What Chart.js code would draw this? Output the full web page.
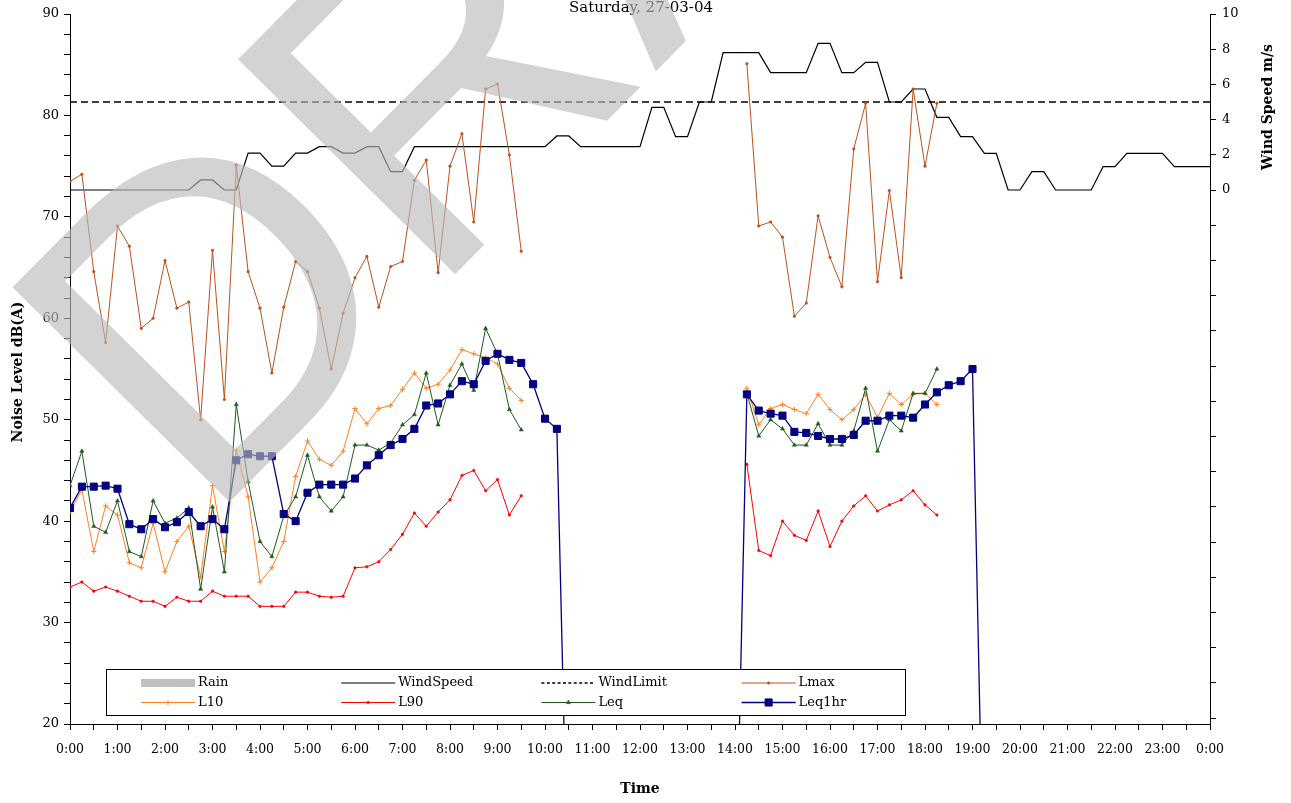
<!DOCTYPE html>
<html>
<head>
<meta charset="utf-8">
<script src="https://cdn.jsdelivr.net/npm/chart.js@4.4.1/dist/chart.umd.min.js"></script>
<style>
  html, body { margin: 0; padding: 0; background: #fff; }
  #wrap { position: relative; width: 1291px; height: 803px; }
</style>
</head>
<body>
<div id="wrap"><canvas id="c" width="1291" height="803"></canvas></div>
<script>
// ---- text ----
const title = 'Saturday, 27-03-04';
const xTitle = 'Time';
const yTitle = 'Noise Level dB(A)';
const y2Title = 'Wind Speed m/s';
const watermark = 'DRAFT';

// ---- 15-minute time slots ----
const times = [
  '0:00','0:15','0:30','0:45','1:00','1:15','1:30','1:45',
  '2:00','2:15','2:30','2:45','3:00','3:15','3:30','3:45',
  '4:00','4:15','4:30','4:45','5:00','5:15','5:30','5:45',
  '6:00','6:15','6:30','6:45','7:00','7:15','7:30','7:45',
  '8:00','8:15','8:30','8:45','9:00','9:15','9:30','9:45',
  '10:00','10:15','10:30','10:45','11:00','11:15','11:30','11:45',
  '12:00','12:15','12:30','12:45','13:00','13:15','13:30','13:45',
  '14:00','14:15','14:30','14:45','15:00','15:15','15:30','15:45',
  '16:00','16:15','16:30','16:45','17:00','17:15','17:30','17:45',
  '18:00','18:15','18:30','18:45','19:00','19:15','19:30','19:45',
  '20:00','20:15','20:30','20:45','21:00','21:15','21:30','21:45',
  '22:00','22:15','22:30','22:45','23:00','23:15','23:30','23:45',
  '24:00'
];

// ---- series (one value per time slot, null = no reading) ----
const rain = [];

const windSpeed = [
  0, 0, 0, 0, 0, 0, 0, 0,
  0, 0, 0, 0.57, 0.57, 0, 0, 2.1,
  2.1, 1.36, 1.36, 2.1, 2.1, 2.46, 2.46, 2.1,
  2.1, 2.46, 2.46, 1.04, 1.04, 2.46, 2.46, 2.46,
  2.46, 2.46, 2.46, 2.46, 2.46, 2.46, 2.46, 2.46,
  2.46, 3.07, 3.07, 2.46, 2.46, 2.46, 2.46, 2.46,
  2.46, 4.7, 4.7, 3.03, 3.03, 5.0, 5.0, 7.8,
  7.8, 7.8, 7.8, 6.67, 6.67, 6.67, 6.67, 8.33,
  8.33, 6.67, 6.67, 7.25, 7.25, 5.0, 5.0, 5.74,
  5.74, 4.13, 4.13, 3.03, 3.03, 2.08, 2.08, 0,
  0, 1.04, 1.04, 0, 0, 0, 0, 1.33,
  1.33, 2.08, 2.08, 2.08, 2.08, 1.33, 1.33, 1.33,
  1.33
];

const windLimit = 5;

const lmax = [
  73.5, 74.2, 64.6, 57.6, 69.1, 67.1, 59.0, 60.0,
  65.7, 61.0, 61.6, 50.0, 66.7, 52.0, 75.1, 64.6,
  61.0, 54.6, 61.1, 65.6, 64.6, 61.0, 55.0, 60.5,
  64.0, 66.1, 61.1, 65.1, 65.6, 73.6, 75.6, 64.5,
  75.0, 78.2, 69.5, 82.6, 83.1, 76.1, 66.6, null,
  null, null, null, null, null, null, null, null,
  null, null, null, null, null, null, null, null,
  null, 85.1, 69.1, 69.5, 68.0, 60.2, 61.5, 70.1,
  66.0, 63.1, 76.7, 81.2, 63.6, 72.6, 64.0, 82.6,
  75.0, 81.2, null, null, null, null, null, null,
  null, null, null, null, null, null, null, null,
  null, null, null, null, null, null, null, null,
  null
];

const l10 = [
  40.9, 43.1, 37.0, 41.5, 40.6, 35.9, 35.4, 39.8,
  35.0, 38.0, 39.5, 34.5, 43.5, 37.0, 47.0, 42.4,
  34.0, 35.4, 38.0, 44.4, 47.9, 46.1, 45.5, 46.9,
  51.1, 49.6, 51.1, 51.4, 53.0, 54.6, 53.1, 53.5,
  54.9, 56.9, 56.5, 56.1, 55.5, 53.1, 51.9, null,
  null, null, null, null, null, null, null, null,
  null, null, null, null, null, null, null, null,
  null, 53.1, 49.5, 51.1, 51.5, 51.0, 50.6, 52.5,
  51.0, 50.0, 51.0, 52.5, 50.2, 52.6, 51.5, 52.5,
  52.6, 51.5, null, null, null, null, null, null,
  null, null, null, null, null, null, null, null,
  null, null, null, null, null, null, null, null,
  null
];

const l90 = [
  33.5, 34.0, 33.1, 33.5, 33.1, 32.6, 32.1, 32.1,
  31.6, 32.5, 32.1, 32.1, 33.1, 32.6, 32.6, 32.6,
  31.6, 31.6, 31.6, 33.0, 33.0, 32.6, 32.5, 32.6,
  35.4, 35.5, 36.0, 37.2, 38.7, 40.8, 39.5, 40.9,
  42.1, 44.5, 45.0, 43.0, 44.1, 40.6, 42.5, null,
  null, null, null, null, null, null, null, null,
  null, null, null, null, null, null, null, null,
  null, 45.6, 37.1, 36.6, 40.0, 38.6, 38.1, 41.0,
  37.5, 40.0, 41.5, 42.5, 41.0, 41.6, 42.1, 43.0,
  41.6, 40.6, null, null, null, null, null, null,
  null, null, null, null, null, null, null, null,
  null, null, null, null, null, null, null, null,
  null
];

const leq = [
  43.5, 46.9, 39.5, 38.9, 42.0, 37.0, 36.5, 42.0,
  39.8, 40.3, 41.3, 33.3, 41.4, 35.0, 51.5, 43.9,
  38.0, 36.5, 40.5, 42.4, 46.5, 42.4, 41.0, 42.4,
  47.5, 47.5, 47.0, 47.7, 49.5, 50.5, 54.6, 49.5,
  53.4, 55.5, 52.9, 59.0, 56.5, 51.0, 49.0, null,
  null, null, null, null, null, null, null, null,
  null, null, null, null, null, null, null, null,
  null, 52.6, 48.4, 50.0, 49.1, 47.5, 47.5, 49.6,
  47.5, 47.5, 48.9, 53.1, 46.9, 50.0, 48.9, 52.6,
  52.6, 55.0, null, null, null, null, null, null,
  null, null, null, null, null, null, null, null,
  null, null, null, null, null, null, null, null,
  null
];

const leq1hr = [
  41.3, 43.4, 43.4, 43.5, 43.2, 39.7, 39.2, 40.2,
  39.4, 39.9, 40.9, 39.5, 40.2, 39.2, 46.0, 46.6,
  46.4, 46.4, 40.7, 40.0, 42.8, 43.6, 43.6, 43.6,
  44.2, 45.5, 46.5, 47.5, 48.1, 49.1, 51.4, 51.6,
  52.5, 53.8, 53.5, 55.8, 56.5, 55.9, 55.6, 53.5,
  50.1, 49.1, 0, 0, 0, 0, 0, 0,
  0, 0, 0, 0, 0, 0, 0, 0,
  0, 52.5, 50.9, 50.6, 50.4, 48.8, 48.7, 48.4,
  48.1, 48.1, 48.5, 49.9, 49.9, 50.4, 50.4, 50.2,
  51.5, 52.7, 53.4, 53.8, 55.0, 0, 0, 0,
  0, 0, 0, 0, 0, 0, 0, 0,
  0, 0, 0, 0, 0, 0, 0, 0,
  0
];

// ---- helpers ----
const hours = times.map(t => { const [h, m] = t.split(':'); return Number(h) + Number(m) / 60; });
const toPoints = arr => arr.map((v, i) => ({ x: hours[i], y: v }));
const FONT = 'DejaVu Serif';

Chart.defaults.font.family = FONT;
Chart.defaults.color = '#000';

const datasets = [
  { label: 'Rain', type: 'bar', data: rain, yAxisID: 'y2', backgroundColor: '#c0c0c0', order: 8 },
  { label: 'WindSpeed', data: toPoints(windSpeed), yAxisID: 'y2', borderColor: '#000', borderWidth: 1.2,
    pointRadius: 0, order: 7 },
  { label: 'WindLimit', data: [{ x: hours[0], y: windLimit }, { x: hours[hours.length - 1], y: windLimit }],
    yAxisID: 'y2', borderColor: '#000', borderWidth: 1.5, borderDash: [7, 4], pointRadius: 0, order: 6 },
  { label: 'Lmax', data: toPoints(lmax), yAxisID: 'y', borderColor: '#b9531f', backgroundColor: '#b9531f',
    borderWidth: 1, pointStyle: 'circle', pointRadius: 1.3, pointBorderWidth: 0.5, order: 5 },
  { label: 'L10', data: toPoints(l10), yAxisID: 'y', borderColor: '#ff8020', backgroundColor: '#ff8020',
    borderWidth: 1, pointStyle: 'cross', pointRadius: 2.6, pointBorderWidth: 1, order: 4 },
  { label: 'L90', data: toPoints(l90), yAxisID: 'y', borderColor: '#ff0000', backgroundColor: '#ff0000',
    borderWidth: 1, pointStyle: 'circle', pointRadius: 1.3, pointBorderWidth: 0.5, order: 3 },
  { label: 'Leq', data: toPoints(leq), yAxisID: 'y', borderColor: '#1f5a1f', backgroundColor: '#1f5a1f',
    borderWidth: 1, pointStyle: 'triangle', pointRadius: 2.4, pointBorderWidth: 0.5, order: 2 },
  { label: 'Leq1hr', data: toPoints(leq1hr), yAxisID: 'y', borderColor: '#000080', backgroundColor: '#000080',
    borderWidth: 1.3, pointStyle: 'rect', pointRadius: 5, pointBorderWidth: 1, order: 1 }
];

// legend box, titles and the watermark
const decor = {
  id: 'decor',
  afterDraw(chart) {
    const ctx = chart.ctx;
    ctx.save();

    // legend
    const bx = 106.5, by = 669.5, bw = 799, bh = 46;
    ctx.fillStyle = '#fff';
    ctx.fillRect(bx, by, bw, bh);
    ctx.strokeStyle = '#000';
    ctx.lineWidth = 1;
    ctx.setLineDash([]);
    ctx.strokeRect(bx, by, bw, bh);
    ctx.font = '13px "' + FONT + '"';
    ctx.textBaseline = 'middle';
    ctx.textAlign = 'left';
    chart.data.datasets.forEach((ds, i) => {
      const col = i % 4, row = Math.floor(i / 4);
      const sx = 141 + col * 200.2, sy = 683 + row * 19.5, sw = 54;
      if (ds.type === 'bar') {
        ctx.fillStyle = ds.backgroundColor;
        ctx.fillRect(sx, sy - 4, sw, 8);
      } else {
        ctx.strokeStyle = ds.borderColor;
        ctx.lineWidth = ds.borderWidth;
        ctx.setLineDash(ds.borderDash ? [3, 2.4] : []);
        ctx.beginPath();
        ctx.moveTo(sx, sy);
        ctx.lineTo(sx + sw, sy);
        ctx.stroke();
        ctx.setLineDash([]);
        if (ds.pointRadius > 0) {
          ctx.fillStyle = ds.backgroundColor;
          ctx.strokeStyle = ds.borderColor;
          ctx.lineWidth = ds.pointBorderWidth;
          Chart.helpers.drawPoint(ctx, { pointStyle: ds.pointStyle, radius: ds.pointRadius, rotation: 0, borderWidth: ds.pointBorderWidth }, sx + sw / 2, sy);
        }
      }
      ctx.fillStyle = '#000';
      ctx.fillText(ds.label, sx + sw + 3, sy);
    });

    // chart title and axis titles
    ctx.fillStyle = '#000';
    ctx.textAlign = 'center';
    ctx.textBaseline = 'middle';
    ctx.font = '15px "' + FONT + '"';
    ctx.fillText(title, 641, 8);
    ctx.font = 'bold 14px "' + FONT + '"';
    ctx.fillText(xTitle, 640, 789);
    ctx.save();
    ctx.translate(18, 372);
    ctx.rotate(-Math.PI / 2);
    ctx.fillText(yTitle, 0, 0);
    ctx.restore();
    ctx.save();
    ctx.translate(1268, 107);
    ctx.rotate(-Math.PI / 2);
    ctx.fillText(y2Title, 0, 0);
    ctx.restore();

    // watermark over the whole chart
    ctx.save();
    ctx.translate(204, 528);
    ctx.rotate(-45.3 * Math.PI / 180);
    ctx.font = '444px "Liberation Sans"';
    ctx.textAlign = 'left';
    ctx.textBaseline = 'alphabetic';
    ctx.fillStyle = 'rgba(186,186,186,0.64)';
    ctx.fillText(watermark, 0, 0);
    ctx.restore();

    ctx.restore();
  }
};

const axisGrid = { drawOnChartArea: false, drawTicks: true, tickLength: 6, color: '#000', lineWidth: 1 };
const axisBorder = { display: true, color: '#000', width: 1 };

new Chart(document.getElementById('c'), {
  type: 'line',
  data: { datasets },
  options: {
    responsive: false,
    animation: false,
    devicePixelRatio: 1,
    events: [],
    layout: { padding: { top: 14, left: 0, right: 0, bottom: 0 } },
    elements: { line: { tension: 0 } },
    plugins: { legend: { display: false }, title: { display: false }, tooltip: { enabled: false } },
    scales: {
      x: {
        type: 'linear', position: 'bottom', min: 0, max: 24, offset: false,
        grid: { ...axisGrid, offset: false }, border: axisBorder,
        ticks: {
          stepSize: 0.5, autoSkip: false, maxRotation: 0, padding: 12,
          font: { size: 12.5 },
          callback: v => Number.isInteger(v) ? (v % 24) + ':00' : ''
        },
        afterFit: s => { s.height = 79; }
      },
      y: {
        position: 'left', min: 20, max: 90,
        grid: axisGrid, border: axisBorder,
        ticks: { stepSize: 2, autoSkip: false, padding: 5, font: { size: 13 },
          callback: v => v % 10 === 0 ? v : '' },
        afterFit: s => { s.width = 70; }
      },
      y2: {
        position: 'right', min: -30.34, max: 10,
        grid: axisGrid, border: axisBorder,
        ticks: { stepSize: 2, autoSkip: false, includeBounds: false, padding: 6, font: { size: 13 },
          callback: v => v >= 0 ? v : '' },
        afterFit: s => { s.width = 81; }
      }
    }
  },
  plugins: [decor]
});
</script>
</body>
</html>
